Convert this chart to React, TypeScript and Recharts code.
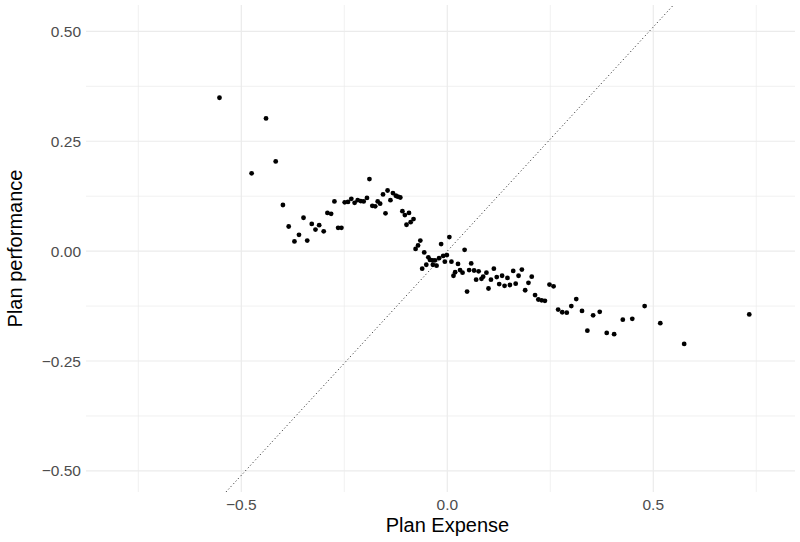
import React from "react";
import {
  ScatterChart,
  Scatter,
  XAxis,
  YAxis,
  ReferenceLine,
  Label,
} from "recharts";

// Plan expense (x) and plan performance (y), one entry per plan
const planExpense = [
  -0.553, -0.475, -0.44, -0.4165, -0.399, -0.385, -0.371, -0.36, -0.349, -0.34,
  -0.329, -0.32, -0.311, -0.3, -0.291, -0.282, -0.274, -0.265, -0.257, -0.249,
  -0.241, -0.233, -0.225, -0.2175, -0.21, -0.203, -0.195, -0.189, -0.182, -0.175,
  -0.169, -0.163, -0.156, -0.15, -0.145, -0.138, -0.132, -0.125, -0.12, -0.114,
  -0.109, -0.103, -0.099, -0.093, -0.089, -0.082, -0.077, -0.071, -0.0655, -0.061,
  -0.056, -0.051, -0.046, -0.042, -0.036, -0.035, -0.03, -0.026, -0.02, -0.015,
  -0.01, -0.006, -0.001, 0.005, 0.01, 0.015, 0.019, 0.026, 0.031, 0.037,
  0.042, 0.048, 0.053, 0.058, 0.065, 0.07, 0.076, 0.083, 0.087, 0.095,
  0.1, 0.106, 0.113, 0.12, 0.126, 0.133, 0.139, 0.146, 0.152, 0.16,
  0.166, 0.173, 0.181, 0.189, 0.197, 0.205, 0.213, 0.221, 0.229, 0.237,
  0.248, 0.258, 0.269, 0.279, 0.29, 0.301, 0.313, 0.327, 0.34, 0.354,
  0.37, 0.387, 0.405, 0.426, 0.449, 0.479, 0.517, 0.575, 0.733,
];

const planPerformance = [
  0.349, 0.177, 0.302, 0.204, 0.105, 0.056, 0.022, 0.037, 0.076, 0.024,
  0.062, 0.049, 0.059, 0.045, 0.087, 0.085, 0.113, 0.053, 0.053, 0.111,
  0.112, 0.119, 0.11, 0.116, 0.114, 0.113, 0.121, 0.164, 0.103, 0.102,
  0.113, 0.108, 0.129, 0.086, 0.138, 0.116, 0.132, 0.126, 0.124, 0.122,
  0.091, 0.082, 0.06, 0.087, 0.066, 0.073, 0.005, 0.013, 0.024, -0.04,
  -0.003, -0.031, -0.014, -0.02, -0.021, -0.031, -0.021, -0.033, -0.016, 0.016,
  -0.011, -0.024, -0.009, 0.032, -0.024, -0.056, -0.048, -0.029, -0.043, -0.049,
  0.003, -0.092, -0.043, -0.028, -0.044, -0.065, -0.046, -0.063, -0.058, -0.049,
  -0.085, -0.065, -0.04, -0.059, -0.075, -0.056, -0.079, -0.061, -0.077, -0.045,
  -0.074, -0.056, -0.042, -0.089, -0.072, -0.058, -0.1, -0.11, -0.112, -0.113,
  -0.076, -0.08, -0.133, -0.139, -0.14, -0.125, -0.109, -0.136, -0.181, -0.146,
  -0.138, -0.186, -0.189, -0.156, -0.154, -0.125, -0.164, -0.211, -0.144,
];

// Axis ticks and their printed labels
const xTickValues = [-0.5, 0, 0.5];
const xTickLabels = ["\u22120.5", "0.0", "0.5"];
const yTickValues = [-0.5, -0.25, 0, 0.25, 0.5];
const yTickLabels = ["\u22120.50", "\u22120.25", "0.00", "0.25", "0.50"];

// Grid lines (major at the ticks, minor half-way between)
const xMajorGrid = [-0.5, 0, 0.5];
const xMinorGrid = [-0.75, -0.25, 0.25, 0.75];
const yMajorGrid = [-0.5, -0.25, 0, 0.25, 0.5];
const yMinorGrid = [-0.375, -0.125, 0.125, 0.375];

// Visible ranges of the panel
const xDomain: [number, number] = [-0.877, 0.844];
const yDomain: [number, number] = [-0.548, 0.56];

// Dotted diagonal: performance = slope * expense + intercept
const diagonalSlope = 1.02;
const diagonalIntercept = 0;

const points = planExpense.map((x, i) => ({ x, y: planPerformance[i] }));

const FONT = '"Liberation Sans", Arial, Helvetica, sans-serif';
const GRID = "#ebebeb";

const Dot = (props: any) => {
  const { cx, cy } = props;
  if (cx == null || cy == null) return null;
  return <circle cx={cx} cy={cy} r={2.4} fill="#000000" />;
};

const fmt = (values: number[], labels: string[]) => (v: number) => {
  const i = values.findIndex((t) => Math.abs(t - v) < 1e-9);
  return i >= 0 ? labels[i] : String(v);
};

export default function App() {
  const xAt = (y: number) => (y - diagonalIntercept) / diagonalSlope;
  const diagStart = { x: xAt(yDomain[0]), y: yDomain[0] };
  const diagEnd = { x: xAt(yDomain[1]), y: yDomain[1] };
  return (
    <div style={{ position: "fixed", left: 0, top: 0, background: "#fff" }}>
      <ScatterChart
        width={800}
        height={542}
        margin={{ top: 5, right: 5, bottom: 0, left: 0 }}
        style={{ fontFamily: FONT }}
      >
        <XAxis
          type="number"
          dataKey="x"
          domain={xDomain}
          allowDataOverflow
          ticks={xTickValues}
          tickFormatter={fmt(xTickValues, xTickLabels)}
          axisLine={false}
          tickLine={false}
          tickSize={0}
          tickMargin={7}
          height={50}
          tick={{ fill: "#4d4d4d", fontSize: 15.5, fontFamily: FONT }}
        >
          <Label
            value="Plan Expense"
            position="insideBottom"
            offset={10}
            dx={7}
            style={{ fill: "#000", fontSize: 20, fontFamily: FONT }}
          />
        </XAxis>
        <YAxis
          type="number"
          dataKey="y"
          domain={yDomain}
          allowDataOverflow
          ticks={yTickValues}
          tickFormatter={fmt(yTickValues, yTickLabels)}
          axisLine={false}
          tickLine={false}
          tickSize={0}
          tickMargin={5}
          width={86}
          tick={{ fill: "#4d4d4d", fontSize: 15.5, fontFamily: FONT }}
        >
          <Label
            value="Plan performance"
            angle={-90}
            position="insideLeft"
            offset={15}
            style={{ fill: "#000", fontSize: 20, fontFamily: FONT, textAnchor: "middle" }}
          />
        </YAxis>

        {xMinorGrid.map((v) => (
          <ReferenceLine key={`xm${v}`} x={v} stroke={GRID} strokeWidth={0.7} />
        ))}
        {yMinorGrid.map((v) => (
          <ReferenceLine key={`ym${v}`} y={v} stroke={GRID} strokeWidth={0.7} />
        ))}
        {xMajorGrid.map((v) => (
          <ReferenceLine key={`xM${v}`} x={v} stroke={GRID} strokeWidth={1.2} />
        ))}
        {yMajorGrid.map((v) => (
          <ReferenceLine key={`yM${v}`} y={v} stroke={GRID} strokeWidth={1.2} />
        ))}

        <ReferenceLine
          segment={[diagStart, diagEnd]}
          stroke="#000"
          strokeWidth={0.9}
          strokeDasharray="1 2.6"
        />

        <Scatter data={points} shape={<Dot />} isAnimationActive={false} />
      </ScatterChart>
    </div>
  );
}
